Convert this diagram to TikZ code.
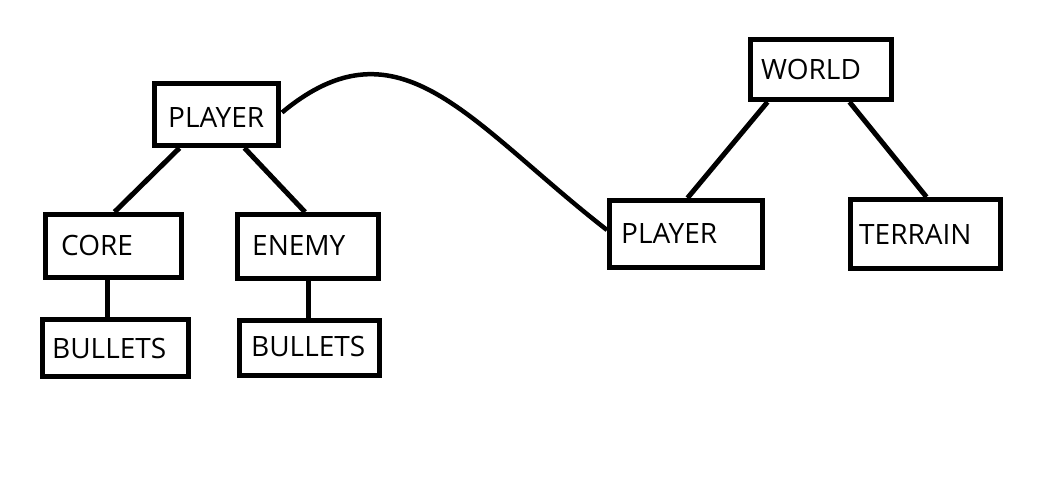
\documentclass[tikz,border=0pt]{standalone}
\usepackage{fontspec}
\setmainfont{Open Sans}
\usetikzlibrary{calc}
\begin{document}
\begin{tikzpicture}[x=1pt,y=-1pt,
  box/.style={draw, line width=5pt, inner sep=0pt, fill=white},
  lbl/.style={anchor=base west, inner sep=0pt, font=\fontsize{28}{28}\selectfont},
  link/.style={line width=5pt}]
\fill[white] (0,0) rectangle (1050,501);
\useasboundingbox (0,0) rectangle (1050,501);
% boxes
\node[box, minimum width=124pt, minimum height=62pt] (pl) at (216.5,114.5) {};
\node[box, minimum width=136pt, minimum height=63pt] (core) at (113.5,246) {};
\node[box, minimum width=141pt, minimum height=64pt] (enemy) at (308,246.5) {};
\node[box, minimum width=146pt, minimum height=57pt] (bl) at (115.5,348) {};
\node[box, minimum width=140pt, minimum height=55pt] (br) at (309.5,348) {};
\node[box, minimum width=141pt, minimum height=60pt] (world) at (821,69.5) {};
\node[box, minimum width=153pt, minimum height=67pt] (pr) at (686,234) {};
\node[box, minimum width=150pt, minimum height=69pt] (terrain) at (925.5,234) {};
% labels
\node[lbl] (tpl) at (168,127) {PLAYER};
\node[lbl] (tcore) at (61,255) {CORE};
\node[lbl] (tenemy) at (252,255) {ENEMY};
\node[lbl] (tbl) at (52,358) {BULLETS};
\node[lbl] (tbr) at (251,356) {BULLETS};
\node[lbl] (tworld) at (761,79) {WORLD};
\node[lbl] (tpr) at (621,243) {PLAYER};
\node[lbl] (tterrain) at (859,244) {TERRAIN};
% connectors
\draw[link] ($(pl.south west)+(27.5,0)$) -- ($(core.north west)+(71.5,0)$);
\draw[link] ($(pl.south west)+(92.5,0)$) -- ($(enemy.north west)+(70,0)$);
\draw[link] ($(core.south west)+(64.5,0)$) -- ($(bl.north west)+(67.5,0)$);
\draw[link] ($(enemy.south west)+(73.5,0)$) -- ($(br.north west)+(71.5,0)$);
\draw[link] ($(world.south west)+(19.5,0)$) -- ($(pr.north west)+(80.5,0)$);
\draw[link] ($(world.south west)+(101.5,0)$) -- ($(terrain.north west)+(78.5,0)$);
\draw[link, line width=4.5pt] ($(pl.east)+(1,-2)$) .. controls +(118,-98) and +(-137.5,-107) .. ($(pr.west)+(0,-4)$);
\end{tikzpicture}
\end{document}
